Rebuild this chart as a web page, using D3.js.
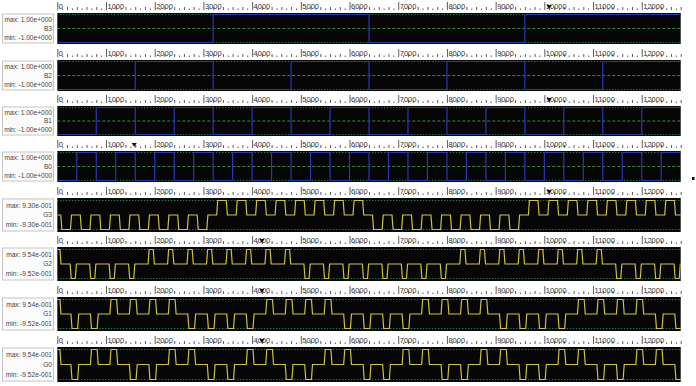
<!DOCTYPE html>
<html><head><meta charset="utf-8">
<script src="https://cdn.jsdelivr.net/npm/d3@7"></script>
<style>body{margin:0;background:#fff} svg{display:block}</style>
</head><body><svg id="c" width="696" height="386"></svg>
<script>
// ---------------- data ----------------
const timeDomain = [0, 12800];
const slotLen = 400;
const rulerTicks = [0,1000,2000,3000,4000,5000,6000,7000,8000,9000,10000,11000,12000];
const signalNames = ["B3","B2","B1","B0","G3","G2","G1","G0"];
const maxLabels = ["max: 1.00e+000","max: 1.00e+000","max: 1.00e+000","max: 1.00e+000","max: 9.30e-001","max: 9.54e-001","max: 9.54e-001","max: 9.54e-001"];
const minLabels = ["min: -1.00e+000","min: -1.00e+000","min: -1.00e+000","min: -1.00e+000","min: -9.30e-001","min: -9.52e-001","min: -9.52e-001","min: -9.52e-001"];
// binary inputs, one value per 400-unit slot
const B3 = [0,0,0,0,0,0,0,0, 1,1,1,1,1,1,1,1, 0,0,0,0,0,0,0,0, 1,1,1,1,1,1,1,1];
const B2 = [0,0,0,0,1,1,1,1, 0,0,0,0,1,1,1,1, 0,0,0,0,1,1,1,1, 0,0,0,0,1,1,1,1];
const B1 = [0,0,1,1,0,0,1,1, 0,0,1,1,0,0,1,1, 0,0,1,1,0,0,1,1, 0,0,1,1,0,0,1,1];
const B0 = [0,1,0,1,0,1,0,1, 0,1,0,1,0,1,0,1, 0,1,0,1,0,1,0,1, 0,1,0,1,0,1,0,1];
// gray outputs: polarity of the output pulse in each slot
const G3 = [-1,-1,-1,-1,-1,-1,-1,-1, 1,1,1,1,1,1,1,1, -1,-1,-1,-1,-1,-1,-1,-1, 1,1,1,1,1,1,1,1];
const G2 = [-1,-1,-1,-1,1,1,1,1, 1,1,1,1,-1,-1,-1,-1, -1,-1,-1,-1,1,1,1,1, 1,1,1,1,-1,-1,-1,-1];
const G1 = [-1,-1,1,1,1,1,-1,-1, -1,-1,1,1,1,1,-1,-1, -1,-1,1,1,1,1,-1,-1, -1,-1,1,1,1,1,-1,-1];
const G0 = [-1,1,1,-1,-1,1,1,-1, -1,1,1,-1,-1,1,1,-1, -1,1,1,-1,-1,1,1,-1, -1,1,1,-1,-1,1,1,-1];
const gInitial = [0, 1, 1, 1];
const markerTimes = [10100, null, 10100, 1580, 10100, 4200, 4200, 4200];

// ---------------- layout / style ----------------
const plotTops    = [13, 60, 106, 151, 198, 247, 297, 347];
const plotBottoms = [44, 91, 136, 182, 232, 281, 331, 382];
const gPulseShape = [[0.18,0.55],[0.66,0.32],[0.70,0.40],[0.70,0.40]];

const svg = d3.select("#c");
const x = d3.scaleLinear().domain(timeDomain).range([57.3, 680.7]);
const bSeries = [B3,B2,B1,B0];
const gSeries = [G3,G2,G1,G0];
const minorTicks = d3.range(timeDomain[0], timeDomain[1] + 1, 100);
const defs = svg.append("defs");

signalNames.forEach((name, i) => {
  const top = plotTops[i], bot = plotBottoms[i];
  const g = svg.append("g");
  // ---- ruler ----
  const base = top - 3;
  g.selectAll("line.minor").data(minorTicks).join("line")
    .attr("x1", d => x(d) + 0.5).attr("x2", d => x(d) + 0.5)
    .attr("y1", base).attr("y2", d => d % 1000 === 0 ? base - 8 : (d % 200 === 0 ? base - 3 : base - 1.5))
    .attr("stroke", "#333").attr("stroke-width", 0.8);
  g.selectAll("text.rl").data(rulerTicks).join("text")
    .attr("x", d => x(d) + 1.5).attr("y", base - 1.5)
    .attr("font-family", "Liberation Sans, Arial, sans-serif").attr("font-size", 7.5)
    .attr("fill", "#333").text(d => d);
  if (markerTimes[i] !== null) {
    const cx = x(markerTimes[i]);
    g.append("path").attr("d", `M${cx-2.5},${base-5} L${cx+2.5},${base-5} L${cx},${base-1} Z`).attr("fill", "#111");
  }
  // ---- plot ----
  g.append("rect").attr("x", x(0)).attr("y", top).attr("width", x(timeDomain[1]) - x(0)).attr("height", bot - top).attr("fill", "#060606");
  const clipId = "clip" + i;
  defs.append("clipPath").attr("id", clipId).append("rect")
    .attr("x", x(0)).attr("y", top).attr("width", x(timeDomain[1]) - x(0)).attr("height", bot - top);
  const isB = i < 4;
  const y = d3.scaleLinear().domain([-1, 1]).range(isB ? [bot - 1.5, top + 1.5] : [bot - 2.5, top + 2.5]);
  [1, -1].forEach(v => {
    g.append("line").attr("x1", x(0)).attr("x2", x(timeDomain[1]))
      .attr("y1", y(v)).attr("y2", y(v))
      .attr("stroke", "#3fae7a").attr("stroke-width", 0.9).attr("stroke-dasharray", "1,2");
  });
  if (isB) {
    g.append("line").attr("x1", x(0)).attr("x2", x(timeDomain[1]))
      .attr("y1", y(0)).attr("y2", y(0))
      .attr("stroke", "#3a9a3a").attr("stroke-width", 0.9).attr("stroke-dasharray", "3,2");
    const bits = bSeries[i];
    const pts = bits.map((b, s) => [s * slotLen, b ? 1 : -1]);
    pts.push([timeDomain[1], bits[bits.length - 1] ? 1 : -1]);
    g.append("path").attr("clip-path", `url(#${clipId})`)
      .attr("d", d3.line().x(d => x(d[0])).y(d => y(d[1])).curve(d3.curveStepAfter)(pts))
      .attr("fill", "none").attr("stroke", "#2838b8").attr("stroke-width", 1.2);
  } else {
    const k = i - 4;
    const vals = gSeries[k];
    const [a, w] = gPulseShape[k];
    const ramp = 22;
    const pts = [];
    const init = gInitial[k];
    pts.push([0, init]);
    if (init !== 0) { pts.push([55, init]); pts.push([75, 0]); }
    vals.forEach((v, s) => {
      const t0 = (s + a) * slotLen, t1 = t0 + w * slotLen;
      pts.push([t0, 0], [t0 + ramp, v], [t1 - ramp, v], [t1, 0]);
    });
    pts.push([timeDomain[1] + 400, 0]);
    g.append("path").attr("clip-path", `url(#${clipId})`)
      .attr("d", d3.line().x(d => x(d[0])).y(d => y(d[1]))(pts))
      .attr("fill", "none").attr("stroke", "#cdc43c").attr("stroke-width", 1.2);
  }
  // ---- label box ----
  const bt = top + 1, bh = bot - top - 2;
  g.append("rect").attr("x", 2.5).attr("y", bt).attr("width", 51).attr("height", bh)
    .attr("fill", "#fcfcfc").attr("stroke", "#c4c4c4").attr("stroke-width", 1);
  const lines = [maxLabels[i], name, minLabels[i]];
  const fr = [0.22, 0.52, 0.82];
  lines.forEach((t, j) => {
    g.append("text").attr("x", 52).attr("y", bt + bh * fr[j])
      .attr("dominant-baseline", "middle").attr("text-anchor", "end")
      .attr("font-family", "Liberation Sans, Arial, sans-serif").attr("font-size", 6.6)
      .attr("fill", "#444").text(t);
  });
});
// small stray mark at the right edge of the reference
svg.append("rect").attr("x", 692).attr("y", 177).attr("width", 2.5).attr("height", 3).attr("fill", "#111");
</script></body></html>
